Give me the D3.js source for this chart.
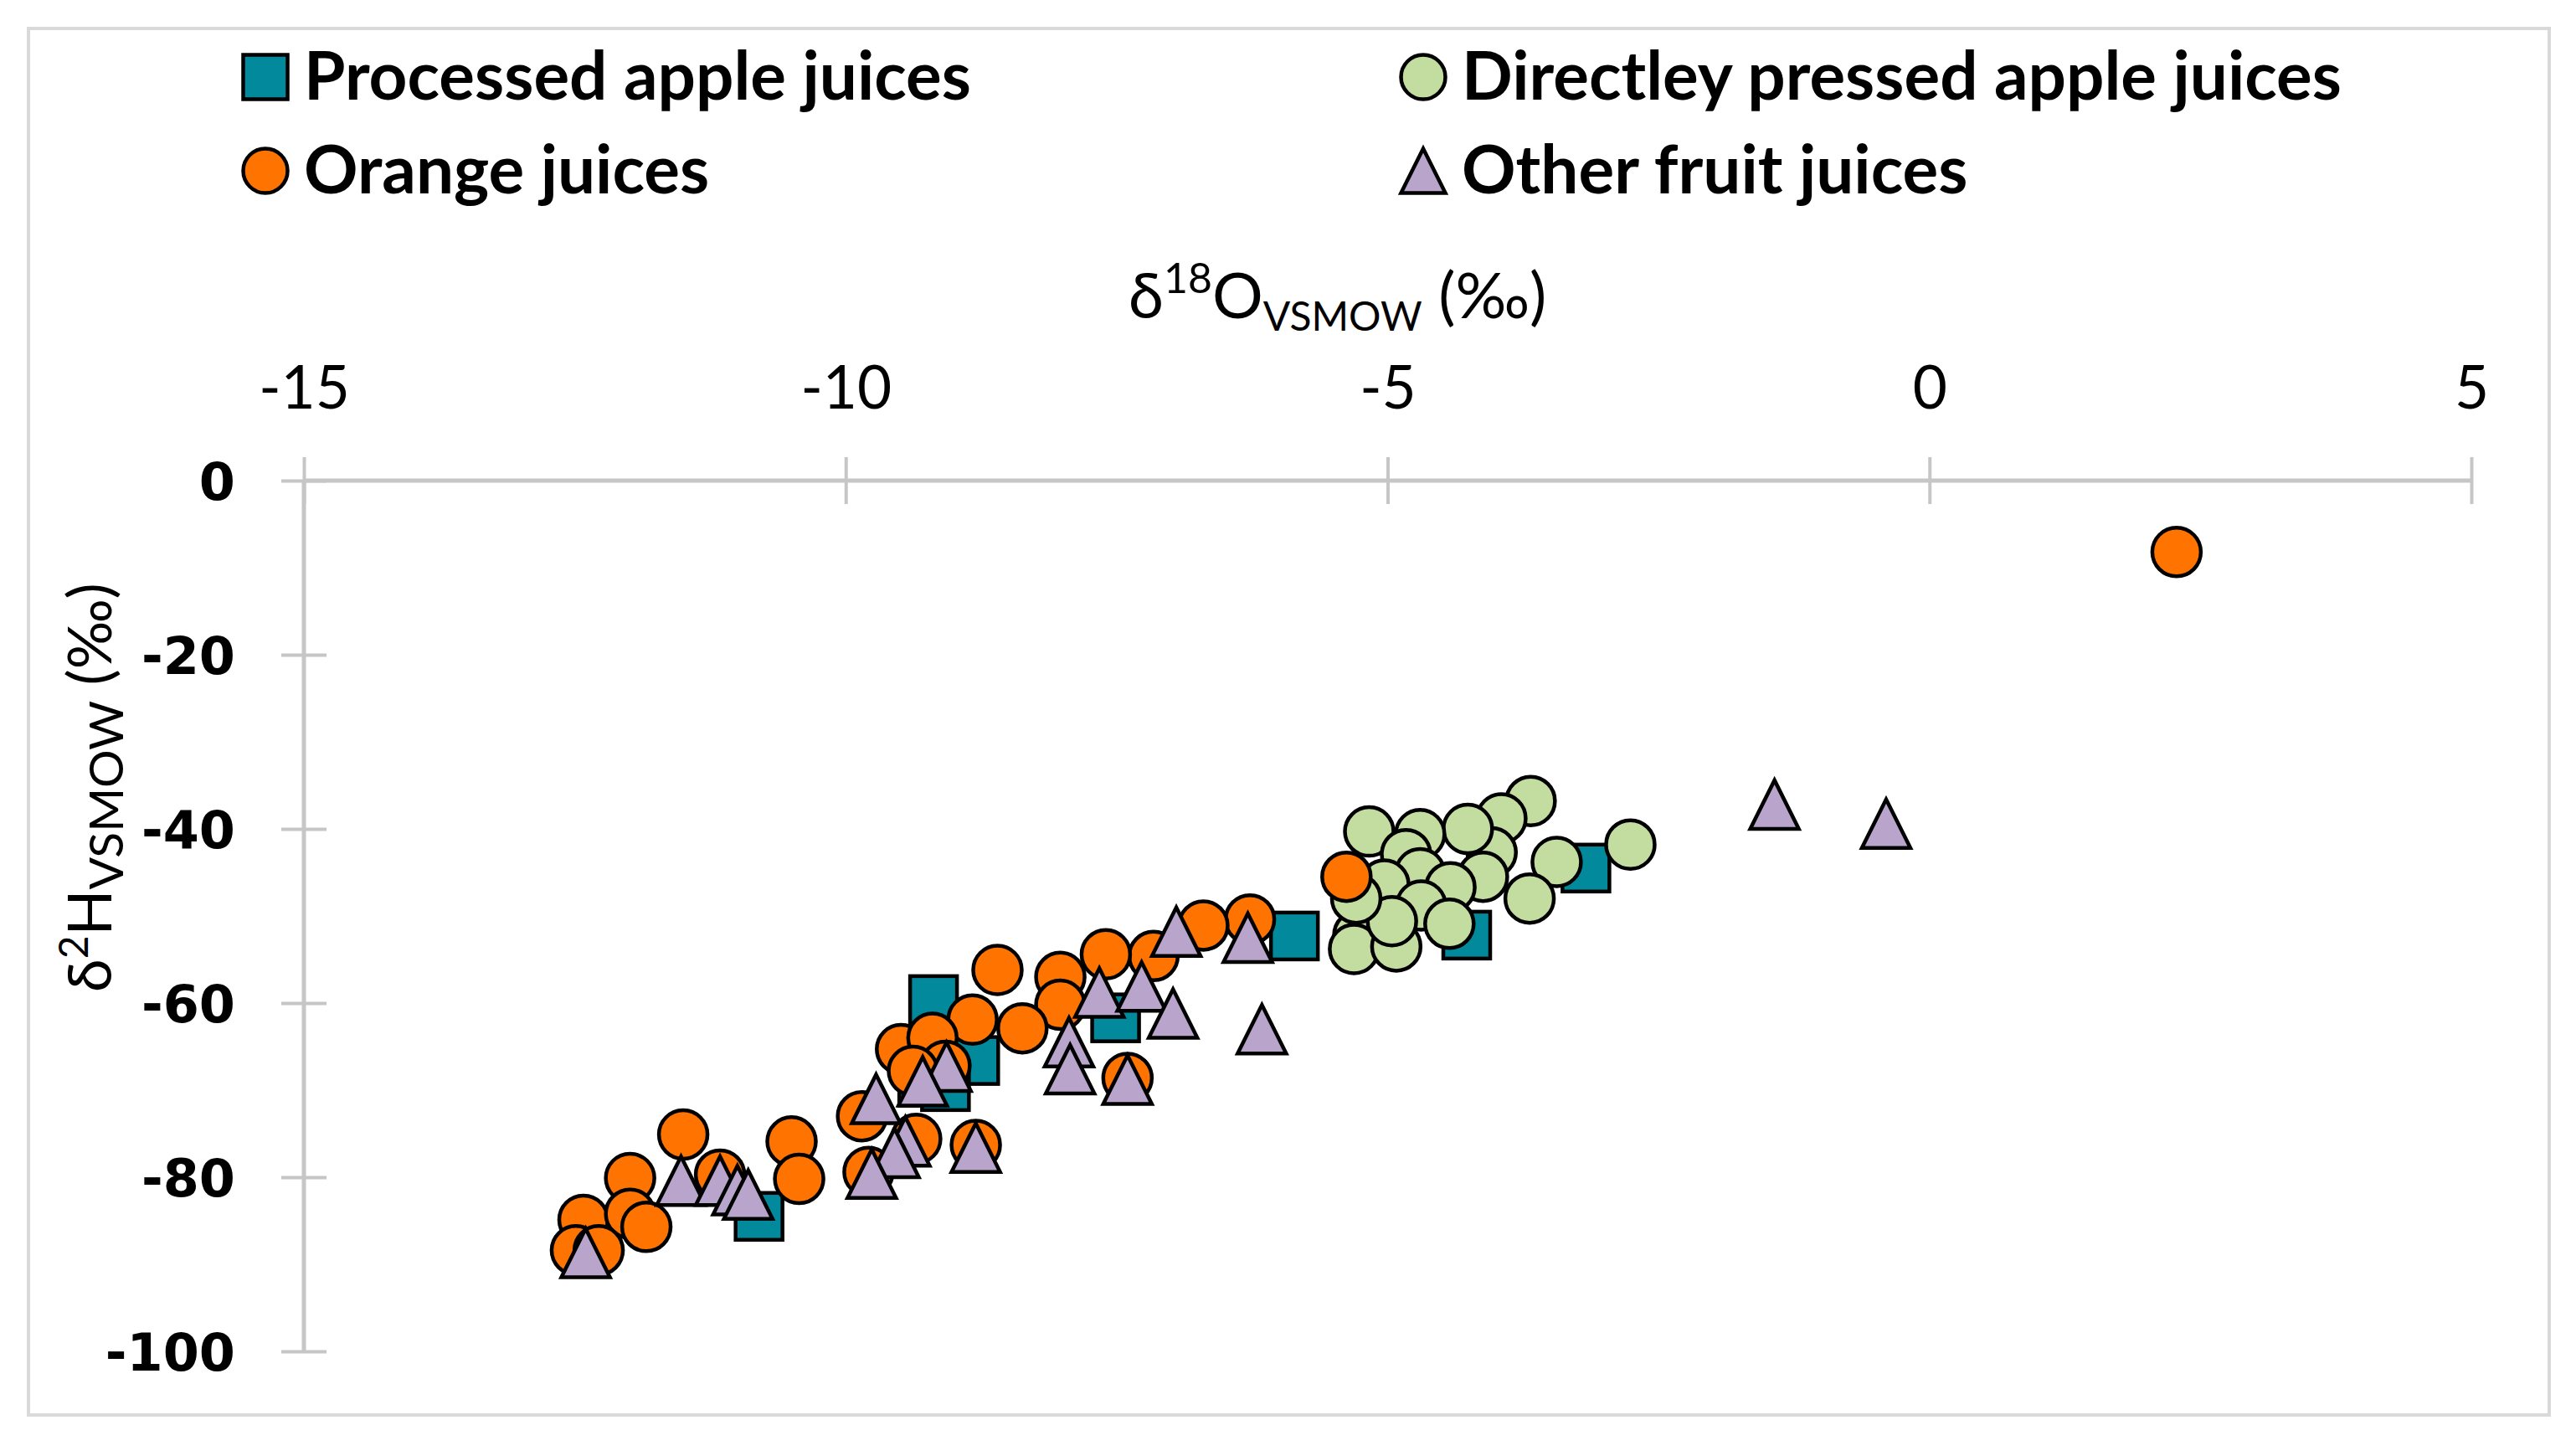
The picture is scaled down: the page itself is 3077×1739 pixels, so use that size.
<!DOCTYPE html>
<html><head><meta charset="utf-8">
<script src="https://cdn.jsdelivr.net/npm/d3@7"></script>
<style>html,body{margin:0;padding:0;background:#fff;}</style>
</head><body>
<svg id="chart" width="3077" height="1739"></svg>
<script>
// ---- data ----
const seriesNames = ["Processed apple juices", "Directley pressed apple juices", "Orange juices", "Other fruit juices"];
const xTicks = [-15, -10, -5, 0, 5];
const yTicks = [0, -20, -40, -60, -80, -100];

const processedApple = [
  [-10.80, -84.5], [-9.19, -59.6], [-8.81, -66.6], [-9.29, -69.1], [-9.08, -69.6],
  [-7.51, -61.7], [-5.86, -52.3], [-4.27, -52.2], [-3.17, -44.5]
];
const directApple = [
  [-3.68, -36.8], [-3.95, -38.8], [-2.76, -41.8], [-4.04, -42.7], [-3.44, -43.8],
  [-3.69, -48.0], [-4.26, -40.0], [-4.70, -40.6], [-5.17, -40.3], [-4.83, -42.9],
  [-4.70, -45.1], [-4.12, -45.5], [-4.42, -46.7], [-5.03, -46.4], [-4.69, -48.8],
  [-4.43, -50.9], [-5.27, -52.2], [-5.31, -53.8], [-4.92, -53.5], [-4.96, -50.6],
  [-5.29, -48.0]
];
const orangeJuice = [
  [2.28, -8.2], [-5.38, -45.5], [-6.27, -50.4], [-6.70, -51.1], [-7.16, -54.6],
  [-7.60, -54.4], [-8.02, -57.0], [-8.02, -60.2], [-8.60, -56.2], [-8.83, -61.9],
  [-8.37, -62.9], [-9.49, -65.3], [-9.20, -64.0], [-9.08, -67.2], [-9.38, -67.8],
  [-7.40, -68.6], [-9.85, -73.0], [-9.35, -75.6], [-8.80, -76.3], [-9.79, -79.4],
  [-10.50, -75.9], [-10.43, -80.2], [-11.16, -79.7], [-11.50, -75.1], [-11.99, -80.1],
  [-12.42, -84.9], [-11.99, -84.2], [-11.84, -85.7], [-12.49, -88.4], [-12.28, -88.4]
];
const otherFruit = [
  [-1.43, -37.2], [-0.40, -39.4], [-6.95, -51.8], [-6.29, -52.5], [-7.66, -58.8],
  [-7.27, -58.1], [-6.98, -61.2], [-6.16, -63.0], [-7.94, -64.5], [-7.93, -67.6],
  [-7.40, -68.8], [-9.72, -71.0], [-9.07, -67.3], [-9.29, -69.0], [-9.45, -75.9],
  [-9.55, -77.2], [-9.76, -79.6], [-8.80, -76.6], [-11.52, -80.4], [-11.16, -80.4],
  [-11.00, -81.5], [-10.90, -82.0], [-12.40, -88.7]
];

// ---- drawing ----
const svg = d3.select("#chart");
const FONT = "Lato, 'Open Sans', sans-serif";
const colors = { square: "#03899c", green: "#c3dc9f", orange: "#ff7400", purple: "#b9a4cc" };

// outer frame
svg.append("rect").attr("x", 34).attr("y", 34).attr("width", 3011).attr("height", 1656)
  .attr("fill", "#fff").attr("stroke", "#d9d9d9").attr("stroke-width", 4);

const x = d3.scaleLinear().domain([-15, 5]).range([363, 2952]);
const y = d3.scaleLinear().domain([0, -100]).range([574, 1614]);

// x axis (top, at y=0)
const gx = svg.append("g").attr("transform", `translate(0,${y(0)})`)
  .call(d3.axisTop(x).tickValues(xTicks).tickSize(28).tickPadding(58).tickFormat(d3.format("d")));
gx.select(".domain").attr("stroke", "#c6c6c6").attr("stroke-width", 5)
  .attr("d", `M${x(-15)},0H${x(5)}`);
gx.selectAll(".tick line").attr("stroke", "#c6c6c6").attr("stroke-width", 4).attr("y1", -28).attr("y2", 28);
gx.selectAll(".tick text").attr("font-family", FONT).attr("font-size", 71).attr("fill", "#000")
  .attr("y", -86).attr("dy", 0).text(d => d < 0 ? "-" + Math.abs(d) : d);

// y axis (left)
const gy = svg.append("g").attr("transform", `translate(${x(-15)},0)`)
  .call(d3.axisLeft(y).tickValues(yTicks).tickSize(27).tickPadding(55).tickFormat(d3.format("d")));
gy.select(".domain").attr("stroke", "#c6c6c6").attr("stroke-width", 5)
  .attr("d", `M0,${y(0)}V${y(-100)}`);
gy.selectAll(".tick line").attr("stroke", "#c6c6c6").attr("stroke-width", 4).attr("x1", -27).attr("x2", 27);
gy.selectAll(".tick text").attr("font-family", "'DejaVu Sans', sans-serif").attr("font-weight", "bold")
  .attr("font-size", 62).attr("fill", "#000").attr("x", -82).attr("dy", "0.36em")
  .text(d => d < 0 ? "-" + Math.abs(d) : d);

// axis titles
const xt = svg.append("text").attr("x", 1348).attr("y", 380).attr("text-anchor", "start")
  .attr("font-family", FONT).attr("font-size", 76).attr("fill", "#000");
xt.append("tspan").text("δ");
xt.append("tspan").attr("dy", -30).attr("font-size", 50).text("18");
xt.append("tspan").attr("dy", 30).text("O");
xt.append("tspan").attr("dy", 15).attr("font-size", 48).text("VSMOW");
xt.append("tspan").attr("dy", -15).text(" (‰)");

const yt = svg.append("text").attr("transform", "translate(133,1185) rotate(-90)")
  .attr("text-anchor", "start").attr("font-family", FONT).attr("font-size", 72).attr("fill", "#000");
yt.append("tspan").text("δ");
yt.append("tspan").attr("dy", -28).attr("font-size", 48).text("2");
yt.append("tspan").attr("dy", 28).text("H");
yt.append("tspan").attr("dy", 14).attr("font-size", 57).text("VSMOW");
yt.append("tspan").attr("dy", -14).text(" (‰)");

// marker generators
const STROKE = 4.5;
function drawMarker(g, type, cx, cy, s) {
  if (type === "square") {
    g.append("rect").attr("x", cx - s / 2).attr("y", cy - s / 2).attr("width", s).attr("height", s)
      .attr("fill", colors.square).attr("stroke", "#000").attr("stroke-width", STROKE);
  } else if (type === "triangle") {
    g.append("path").attr("d", `M${cx},${cy - s / 2}L${cx + s / 2},${cy + s / 2}L${cx - s / 2},${cy + s / 2}Z`)
      .attr("fill", colors.purple).attr("stroke", "#000").attr("stroke-width", STROKE).attr("stroke-linejoin", "miter");
  } else {
    g.append("circle").attr("cx", cx).attr("cy", cy).attr("r", s / 2)
      .attr("fill", type === "green" ? colors.green : colors.orange).attr("stroke", "#000").attr("stroke-width", STROKE);
  }
}

const series = [
  { data: processedApple, type: "square", size: 56 },
  { data: directApple, type: "green", size: 58 },
  { data: orangeJuice, type: "orange", size: 58 },
  { data: otherFruit, type: "triangle", size: 58 }
];
const plot = svg.append("g");
series.forEach(s => {
  const g = plot.append("g");
  s.data.forEach(d => drawMarker(g, s.type, x(d[0]), y(d[1]), s.size));
});

// legend
const legendPos = [
  { mx: 317, tx: 363, cy: 100 },
  { mx: 1700, tx: 1746, cy: 100 },
  { mx: 317, tx: 363, cy: 212 },
  { mx: 1700, tx: 1746, cy: 212 }
];
const legendTypes = ["square", "green", "orange", "triangle"];
const lg = svg.append("g");
seriesNames.forEach((name, i) => {
  const p = legendPos[i];
  drawMarker(lg, legendTypes[i], p.mx, p.cy - 8, 53);
  lg.append("text").attr("x", p.tx).attr("y", p.cy + 19).attr("font-family", FONT)
    .attr("font-weight", "bold").attr("font-size", 80).attr("fill", "#000").text(name);
});
</script>
</body></html>
